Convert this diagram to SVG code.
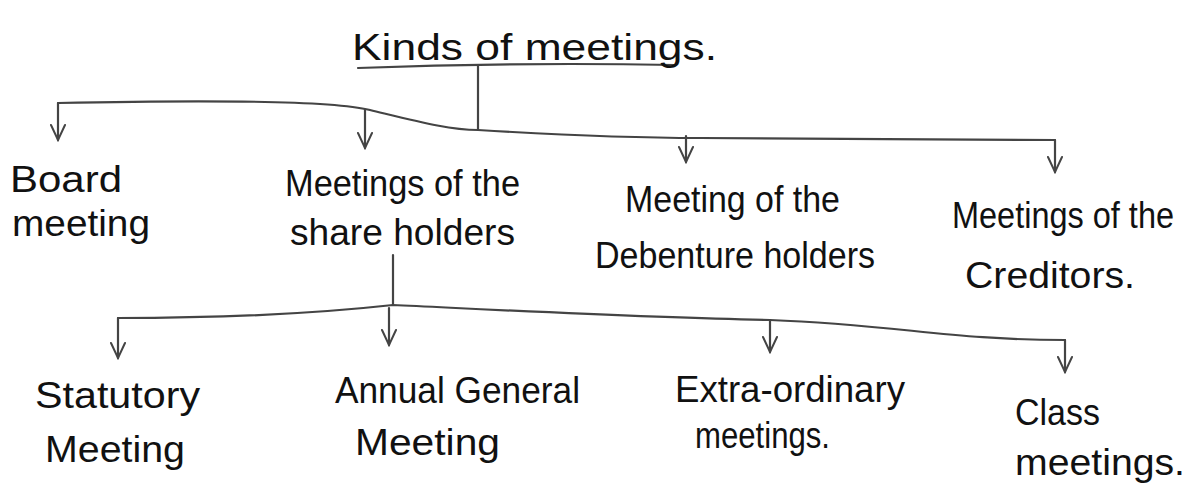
<svg xmlns="http://www.w3.org/2000/svg" width="1198" height="487" viewBox="0 0 1198 487">
<defs>
<style>
text{font-family:"Liberation Sans","DejaVu Sans",sans-serif;font-size:36px;fill:#111;}
.c{fill:none;stroke:#444;stroke-width:2.2;stroke-linecap:round;stroke-linejoin:round;}
</style>
<marker id="v" viewBox="-18 -10 20 20" markerWidth="20" markerHeight="20" refX="0" refY="0" orient="auto" markerUnits="userSpaceOnUse">
<path d="M-15,-7 L0,0 L-15,7" fill="none" stroke="#444" stroke-width="2" stroke-linecap="round"/>
</marker>
</defs>
<rect width="1198" height="487" fill="#fff"/>
<g id="connectors">
<path class="c" d="M358,68 Q520,62 675,65"/>
<path class="c" d="M478,66 L478,130"/>
<path class="c" d="M58,103 C200,100 330,100 370,110 C420,122 450,130 478,130 C560,135 640,138 700,138 C800,138 950,140 1055,140"/>
<path class="c" d="M58,103 L58,140" marker-end="url(#v)"/>
<path class="c" d="M365,110 L365,148" marker-end="url(#v)"/>
<path class="c" d="M686,136 L686,162" marker-end="url(#v)"/>
<path class="c" d="M1055,140 L1055,172" marker-end="url(#v)"/>
<path class="c" d="M393,255 L393,305"/>
<path class="c" d="M118,318 C250,318 330,312 393,305 C500,310 650,318 770,320 C900,325 950,340 1065,340"/>
<path class="c" d="M118,318 L118,358" marker-end="url(#v)"/>
<path class="c" d="M389,308 L389,345" marker-end="url(#v)"/>
<path class="c" d="M770,320 L770,352" marker-end="url(#v)"/>
<path class="c" d="M1065,340 L1065,372" marker-end="url(#v)"/>
</g>
<g id="root"><text x="352" y="60" textLength="365" lengthAdjust="spacingAndGlyphs">Kinds of meetings.</text></g>
<g id="board">
<text x="10" y="192" textLength="112" lengthAdjust="spacingAndGlyphs">Board</text>
<text x="12" y="236" textLength="138" lengthAdjust="spacingAndGlyphs">meeting</text>
</g>
<g id="shareholders">
<text x="285" y="196" textLength="235" lengthAdjust="spacingAndGlyphs">Meetings of the</text>
<text x="290" y="245" textLength="225" lengthAdjust="spacingAndGlyphs">share holders</text>
</g>
<g id="debenture">
<text x="625" y="212" textLength="215" lengthAdjust="spacingAndGlyphs">Meeting of the</text>
<text x="595" y="268" textLength="280" lengthAdjust="spacingAndGlyphs">Debenture holders</text>
</g>
<g id="creditors">
<text x="952" y="228" textLength="222" lengthAdjust="spacingAndGlyphs">Meetings of the</text>
<text x="965" y="288" textLength="170" lengthAdjust="spacingAndGlyphs">Creditors.</text>
</g>
<g id="statutory">
<text x="35" y="408" textLength="165" lengthAdjust="spacingAndGlyphs">Statutory</text>
<text x="45" y="462" textLength="140" lengthAdjust="spacingAndGlyphs">Meeting</text>
</g>
<g id="agm">
<text x="335" y="403" textLength="245" lengthAdjust="spacingAndGlyphs">Annual General</text>
<text x="355" y="455" textLength="145" lengthAdjust="spacingAndGlyphs">Meeting</text>
</g>
<g id="extraordinary">
<text x="675" y="402" textLength="230" lengthAdjust="spacingAndGlyphs">Extra-ordinary</text>
<text x="695" y="448" textLength="135" lengthAdjust="spacingAndGlyphs">meetings.</text>
</g>
<g id="class">
<text x="1015" y="425" textLength="85" lengthAdjust="spacingAndGlyphs">Class</text>
<text x="1015" y="475" textLength="170" lengthAdjust="spacingAndGlyphs">meetings.</text>
</g>
</svg>
